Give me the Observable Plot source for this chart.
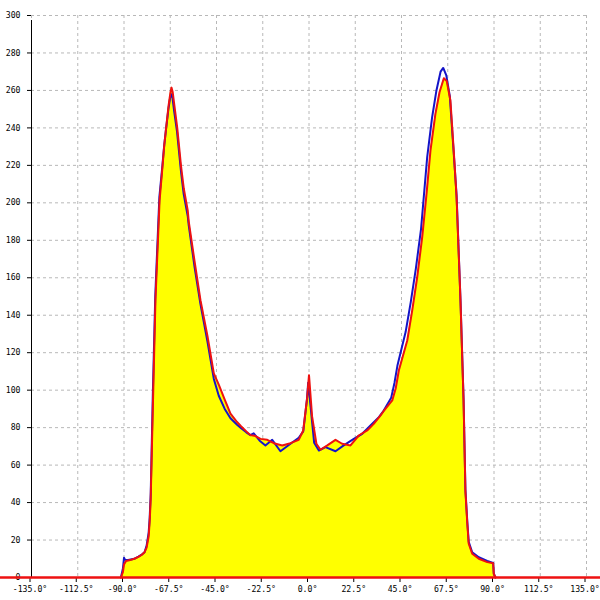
<!DOCTYPE html>
<html>
<head>
<meta charset="utf-8">
<script src="https://cdn.jsdelivr.net/npm/d3@7"></script>
<script src="https://cdn.jsdelivr.net/npm/@observablehq/plot@0.6"></script>
<style>
  html, body { margin: 0; padding: 0; background: #fff; }
</style>
</head>
<body>
<div id="chart"></div>
<script>
const xTicks = [-135, -112.5, -90, -67.5, -45, -22.5, 0, 22.5, 45, 67.5, 90, 112.5, 135];
const yTicks = [0, 20, 40, 60, 80, 100, 120, 140, 160, 180, 200, 220, 240, 260, 280, 300];

const redDeg = [-91.5, -90.5, -90, -89, -87, -85, -83, -81.5, -80, -79, -78, -77.5, -77, -76.8, -75.9, -74.7, -72.7, -71.3, -70.4, -69.5, -68.3, -67.4, -66.9, -66.3, -65.5, -64.1, -62.2, -60.9, -59, -58.5, -55.7, -52.8, -49.4, -46.3, -43.9, -41, -38.2, -35, -33.3, -30.5, -28.5, -26, -23.6, -20.3, -17.1, -13, -9, -5, -2.8, -0.9, 0, 1.5, 3.6, 5.6, 8.9, 12.9, 16.1, 20.2, 24.2, 28.3, 31.5, 34.8, 36.4, 40.5, 42.2, 43.7, 47.8, 50.2, 52.6, 55.1, 57.2, 59.1, 61.5, 63.5, 65.6, 67, 68.8, 70.4, 71.8, 73.7, 75.2, 76.1, 77, 77.7, 79.4, 82.6, 86.7, 89.6, 89.9, 90.7];
const redVal = [0, 3, 7, 8.8, 9.3, 10, 11, 12, 13.5, 16, 22, 30, 42, 52, 94, 148, 201, 219, 231, 240, 252, 259, 261.5, 259, 252, 240, 219, 207.5, 196, 190, 169, 148, 129, 109, 103, 95, 87.5, 83, 81, 78, 76, 75.5, 74, 73.5, 71.7, 70.5, 71.7, 73.5, 78.5, 96, 108, 86, 71.4, 68.2, 70.5, 73.5, 71.4, 70.5, 75.8, 78.5, 82, 86.5, 89, 94.5, 101, 110.5, 126.5, 142.5, 160, 182, 205, 228, 247.5, 259, 266.5, 265, 254.6, 228, 203, 148, 94.5, 46, 29, 18, 12.7, 10, 8.2, 7.6, 2, 0];

const blueDeg = [-91.5, -90.5, -90, -89.5, -88, -85, -83, -81, -80, -79, -78, -77.5, -77, -76, -74.8, -72.8, -71.4, -70.5, -69.6, -68.4, -67.5, -67, -66.4, -65.6, -64.2, -62.3, -61, -59, -58.5, -55.7, -52.8, -49.4, -46.3, -43.9, -41, -38.2, -35, -33.3, -30.5, -28.5, -26.9, -24, -21.2, -17.9, -13.9, -9, -5, -2.8, -1, -0.4, 0.8, 2.5, 4.8, 8, 12.9, 16.9, 21.8, 25.9, 29.9, 34, 36, 40, 41.6, 43, 47, 49.5, 52, 54.5, 57.5, 59.9, 62, 64, 65.3, 66.8, 68.5, 70.2, 71.8, 73.7, 75.2, 76.1, 77, 77.7, 79.4, 82.6, 86.7, 89.6, 89.9, 90.7];
const blueVal = [0, 5, 10.5, 9.5, 9.3, 10, 11.2, 12.5, 13.5, 17, 24, 32, 45, 97, 150, 203, 219, 230, 239, 250, 256.5, 258, 256, 249, 238, 217, 205, 193, 188, 166, 146, 126, 106, 97, 90, 85, 81.5, 80, 77.5, 76, 77, 73, 70.5, 73.5, 67.4, 71.4, 74.6, 78, 95, 104, 91, 72, 67.8, 69.6, 67.4, 70.5, 74, 76.7, 81.1, 85.6, 88.5, 96, 104, 113, 131, 147, 165, 186, 224.4, 245.7, 260, 270, 272, 268, 257, 230, 204, 148, 95, 47, 30, 19, 13.5, 10.8, 8.8, 7.8, 2, 0];

const red = redDeg.map((d, i) => ({x: d, y: redVal[i]}));
const blue = blueDeg.map((d, i) => ({x: d, y: blueVal[i]}));

const mL = 31, mR = 14;
const chart = Plot.plot({
  width: 600,
  height: 600,
  marginLeft: mL,
  marginRight: mR,
  marginTop: 15,
  marginBottom: 23,
  style: {fontFamily: "DejaVu Sans Mono", fontSize: "8.2px", background: "#fff", color: "#000"},
  x: {domain: [-135, 135]},
  y: {domain: [0, 300]},
  marks: [
    Plot.gridY(yTicks, {stroke: "#b8b8b8", strokeOpacity: 1, strokeDasharray: "3,3"}),
    Plot.gridX(xTicks, {stroke: "#b8b8b8", strokeOpacity: 1, strokeDasharray: "3,3"}),
    Plot.areaY(red, {x: "x", y: "y", fill: "#ffff00"}),
    Plot.lineY(blue, {x: "x", y: "y", stroke: "#1414c8", strokeWidth: 2}),
    Plot.lineY(red, {x: "x", y: "y", stroke: "#ee1111", strokeWidth: 2}),
    Plot.ruleX([-135], {stroke: "#000", y1: 0, y2: 300, insetBottom: -5}),
    Plot.axisY(yTicks, {tickSize: 4, tickPadding: 7, label: null, tickFormat: d => String(d)}),
    Plot.axisX(xTicks, {tickSize: 5, tickPadding: 4, dx: -1.5, label: null, tickFormat: d => d.toFixed(1) + "°"}),
    Plot.ruleY([0], {stroke: "#ee1111", strokeWidth: 2.5, insetLeft: -mL, insetRight: -mR})
  ]
});
document.getElementById("chart").appendChild(chart);
</script>
</body>
</html>
